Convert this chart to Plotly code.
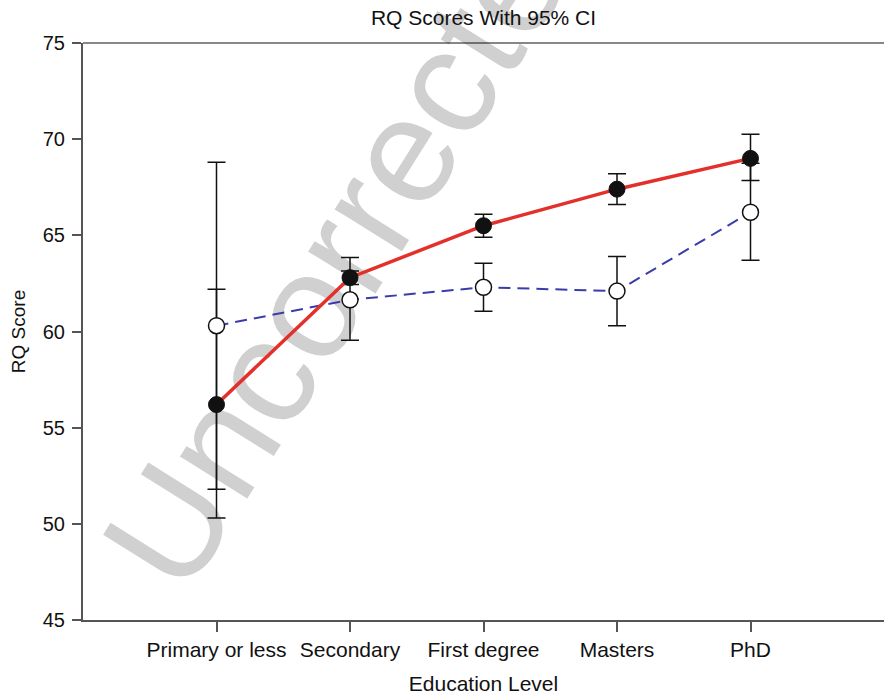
import plotly.graph_objects as go

categories = ["Primary or less", "Secondary", "First degree", "Masters", "PhD"]

# Filled markers, solid red line
red_mean = [56.2, 62.8, 65.5, 67.4, 69.0]
red_lo = [50.3, 62.45, 64.9, 66.6, 67.85]
red_hi = [62.2, 63.15, 66.1, 68.2, 70.25]

# Open markers, dashed blue line
blue_mean = [60.3, 61.65, 62.3, 62.1, 66.2]
blue_lo = [51.8, 59.55, 61.05, 60.3, 63.7]
blue_hi = [68.8, 63.85, 63.55, 63.9, 68.75]

title_text = "RQ Scores With 95% CI"
x_title = "Education Level"
y_title = "RQ Score"
y_ticks = [45, 50, 55, 60, 65, 70, 75]
watermark = "Uncorrected"

FONT = "Liberation Sans, Arial, Helvetica, sans-serif"

def err(mean, lo, hi):
    return dict(type="data", symmetric=False,
                array=[h - m for m, h in zip(mean, hi)],
                arrayminus=[m - l for m, l in zip(mean, lo)],
                color="#111111", thickness=1.5, width=9)

fig = go.Figure()

# error bars first (below all markers and lines)
fig.add_trace(go.Scatter(x=categories, y=red_mean, mode="markers",
                         marker=dict(size=1, color="rgba(0,0,0,0)"),
                         error_y=err(red_mean, red_lo, red_hi),
                         showlegend=False, hoverinfo="skip"))
fig.add_trace(go.Scatter(x=categories, y=blue_mean, mode="markers",
                         marker=dict(size=1, color="rgba(0,0,0,0)"),
                         error_y=err(blue_mean, blue_lo, blue_hi),
                         showlegend=False, hoverinfo="skip"))

# blue dashed series with open markers
fig.add_trace(go.Scatter(x=categories, y=blue_mean, mode="lines+markers",
                         line=dict(color="#3b3bab", width=2, dash="12px,7px"),
                         marker=dict(size=16, color="white",
                                     line=dict(color="#111111", width=1.5)),
                         showlegend=False))
# red solid series with filled markers
fig.add_trace(go.Scatter(x=categories, y=red_mean, mode="lines+markers",
                         line=dict(color="#e3302b", width=3.5),
                         marker=dict(size=16, color="#111111",
                                     line=dict(color="#111111", width=1)),
                         showlegend=False))

fig.update_layout(
    width=884, height=696,
    margin=dict(l=83, r=0, t=43, b=76),
    paper_bgcolor="white", plot_bgcolor="white",
    font=dict(family=FONT, color="#111111"),
    title=dict(text=title_text, x=0.5, xref="paper", xanchor="center",
               y=1 - 18 / 696, yanchor="middle",
               font=dict(size=21, family=FONT, color="#111111")),
    xaxis=dict(type="category", range=[-1, 5], showline=True,
               linecolor="#555555", linewidth=2, ticks="outside", ticklen=10,
               tickwidth=1.5, tickcolor="#555555", showgrid=False, zeroline=False,
               tickfont=dict(size=21),
               title=dict(text=x_title, font=dict(size=21), standoff=16)),
    yaxis=dict(range=[45, 75], tickvals=y_ticks, showline=True,
               linecolor="#555555", linewidth=2, ticks="outside", ticklen=9,
               tickwidth=1.5, tickcolor="#555555", showgrid=False, zeroline=False,
               tickfont=dict(size=20), ticklabelstandoff=3,
               title=dict(text=y_title, font=dict(size=19), standoff=12)),
    shapes=[
        dict(type="line", xref="paper", yref="paper", x0=0, x1=1, y0=1, y1=1,
             line=dict(color="#111111", width=1.2)),
        dict(type="rect", xref="paper", yref="paper",
             x0=0.327 - 0.01, x1=0.327 + 0.01, y0=0.697 - 0.01, y1=0.697 + 0.01,
             line=dict(width=0), fillcolor="rgba(0,0,0,0)", layer="below",
             label=dict(text=watermark, textangle=-58,
                        textposition="middle center",
                        font=dict(size=150, family=FONT, color="#d0d0d0"))),
    ],
)

fig.write_html("out.html")
